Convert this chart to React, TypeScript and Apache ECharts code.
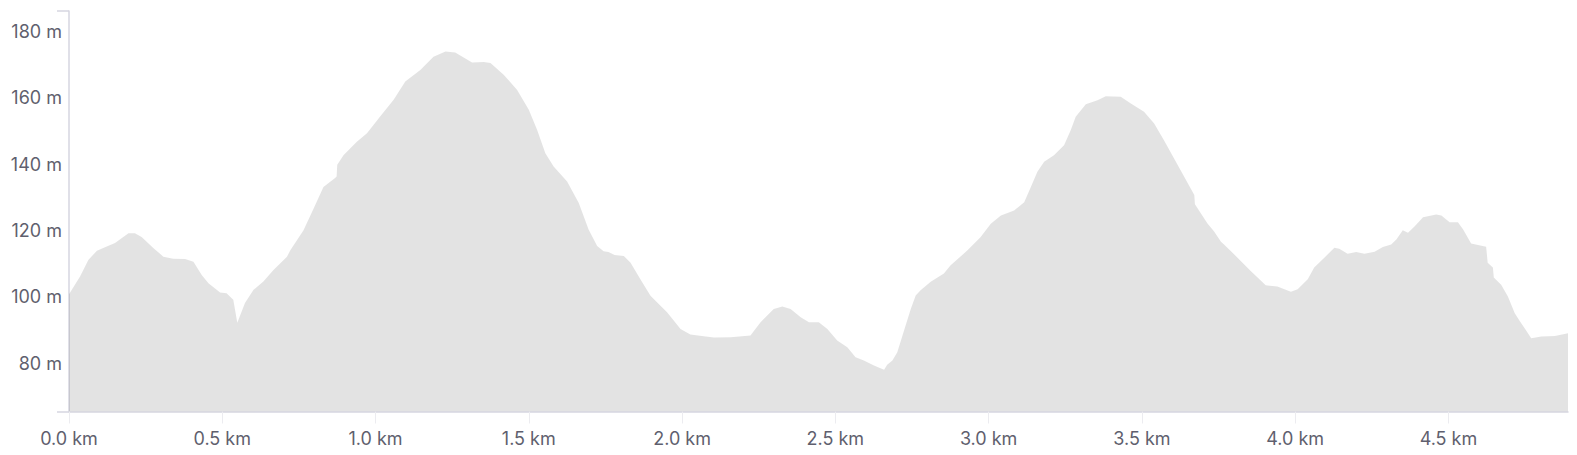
import React, { useEffect, useRef } from "react";
import * as echarts from "echarts";

const distanceKm: number[] = [
  0.0, 0.036, 0.063, 0.091, 0.123, 0.15, 0.194, 0.215, 0.237, 0.275, 0.308, 0.34, 0.379, 0.406, 0.433,
  0.455, 0.493, 0.514, 0.536, 0.549, 0.574, 0.602, 0.634, 0.667, 0.711, 0.722, 0.765, 0.798, 0.83,
  0.868, 0.873, 0.875, 0.896, 0.939, 0.972, 1.015, 1.059, 1.097, 1.146, 1.189, 1.228, 1.26, 1.315,
  1.353, 1.375, 1.418, 1.462, 1.5, 1.527, 1.554, 1.581, 1.625, 1.663, 1.695, 1.723, 1.744, 1.76,
  1.78, 1.81, 1.832, 1.864, 1.897, 1.919, 1.951, 1.995, 2.027, 2.071, 2.104, 2.158, 2.223, 2.256,
  2.299, 2.327, 2.354, 2.387, 2.414, 2.446, 2.474, 2.506, 2.539, 2.566, 2.593, 2.626, 2.659, 2.669,
  2.686, 2.702, 2.724, 2.746, 2.762, 2.778, 2.811, 2.854, 2.876, 2.931, 2.974, 3.007, 3.04, 3.083,
  3.116, 3.137, 3.159, 3.181, 3.213, 3.246, 3.268, 3.284, 3.317, 3.355, 3.382, 3.431, 3.464, 3.507,
  3.54, 3.572, 3.605, 3.638, 3.671, 3.673, 3.714, 3.735, 3.758, 3.768, 3.812, 3.855, 3.904, 3.942,
  3.986, 4.008, 4.041, 4.062, 4.095, 4.128, 4.144, 4.171, 4.199, 4.226, 4.259, 4.286, 4.313, 4.33,
  4.351, 4.368, 4.39, 4.417, 4.46, 4.477, 4.504, 4.531, 4.548, 4.574, 4.623, 4.628, 4.645, 4.648,
  4.672, 4.694, 4.716, 4.732, 4.77, 4.803, 4.847, 4.89,
];

const elevationM: number[] = [
  100.8, 106.1, 111.1, 113.9, 115.2, 116.2, 119.2, 119.2, 118.0, 114.7, 112.1, 111.5, 111.4, 110.6, 106.6,
  104.1, 101.3, 101.1, 99.1, 92.2, 98.1, 102.1, 104.6, 108.1, 112.1, 114.0, 120.1, 126.6, 133.1,
  135.8, 136.3, 139.8, 142.8, 146.8, 149.3, 154.4, 159.4, 164.9, 168.4, 172.4, 174.0, 173.7, 170.7,
  170.8, 170.5, 167.0, 162.4, 156.4, 150.4, 143.3, 139.3, 134.8, 128.3, 120.3, 115.3, 113.7, 113.5,
  112.6, 112.3, 110.3, 105.3, 100.3, 98.3, 95.3, 90.3, 88.6, 88.1, 87.7, 87.8, 88.3, 92.3,
  96.3, 97.1, 96.3, 93.8, 92.3, 92.3, 90.3, 86.8, 84.8, 81.8, 80.8, 79.3, 78.0, 79.5,
  80.8, 83.3, 89.8, 96.3, 100.4, 102.0, 104.5, 107.0, 109.5, 114.0, 118.0, 122.0, 124.5, 126.0,
  128.5, 133.0, 137.7, 140.7, 142.7, 145.7, 150.3, 154.3, 158.1, 159.3, 160.5, 160.3, 158.3, 155.8,
  152.3, 147.2, 141.7, 136.2, 130.7, 127.9, 122.1, 119.8, 116.6, 115.8, 111.8, 107.8, 103.5, 103.1,
  101.5, 102.3, 105.3, 108.8, 111.8, 114.8, 114.5, 113.0, 113.5, 113.0, 113.6, 115.0, 115.8, 117.3,
  120.1, 119.3, 121.3, 124.0, 124.8, 124.5, 122.5, 122.5, 120.3, 116.1, 115.1, 110.3, 108.8, 105.8,
  103.6, 100.1, 95.1, 92.8, 87.5, 88.0, 88.2, 89.0,
];

const xTickValues: number[] = [0, 0.5, 1, 1.5, 2, 2.5, 3, 3.5, 4, 4.5];
const yTickValues: number[] = [80, 100, 120, 140, 160, 180];

const X_MIN = 0;
const X_MAX = 4.89;
const Y_MIN = 65.4;
const Y_MAX = 186.2;

const AXIS_COLOR = "#d6d6e0";
const LABEL_COLOR = "#5f5f6e";
const FONT = "Inter, 'Liberation Sans', Arial, sans-serif";

export default function App() {
  const ref = useRef<HTMLDivElement>(null);

  useEffect(() => {
    if (!ref.current) return;
    const chart = echarts.init(ref.current, undefined, { renderer: "svg" });
    const data = distanceKm.map((d, i) => [d, elevationM[i]]);
    chart.setOption({
      animation: false,
      grid: { left: 69, right: 9, top: 11, bottom: 43.5, containLabel: false },
      xAxis: {
        type: "value",
        min: X_MIN,
        max: X_MAX,
        interval: 0.5,
        axisLine: { show: true, lineStyle: { color: AXIS_COLOR, width: 1.5 } },
        axisTick: {
          show: true,
          length: 12,
          customValues: xTickValues,
          lineStyle: { color: "#ececf0", width: 1 },
        },
        axisLabel: {
          customValues: xTickValues,
          formatter: (v: number) => `${v.toFixed(1)} km`,
          color: LABEL_COLOR,
          fontSize: 18,
          fontFamily: FONT,
          margin: 18,
        },
        splitLine: { show: false },
      },
      yAxis: {
        type: "value",
        min: Y_MIN,
        max: Y_MAX,
        axisLine: { show: true, lineStyle: { color: AXIS_COLOR, width: 1.5 } },
        axisTick: {
          show: true,
          length: 12,
          customValues: [Y_MIN, Y_MAX],
          lineStyle: { color: AXIS_COLOR, width: 1.5 },
        },
        axisLabel: {
          customValues: yTickValues,
          formatter: (v: number) => `${v} m`,
          color: LABEL_COLOR,
          fontSize: 18,
          fontFamily: FONT,
          margin: 7,
        },
        splitNumber: 6,
        splitLine: {
          show: true,
          showMinLine: false,
          showMaxLine: false,
          lineStyle: { color: "#f1f1f5", width: 1.5 },
        },
      },
      series: [
        {
          type: "line",
          data,
          showSymbol: false,
          symbol: "none",
          smooth: false,
          lineStyle: { width: 0 },
          areaStyle: { color: "rgba(0,0,0,0.11)", opacity: 1 },
          silent: true,
        },
      ],
    });
    return () => chart.dispose();
  }, []);

  return (
    <div
      ref={ref}
      style={{ position: "fixed", left: 0, top: 0, width: 1577, height: 455, background: "#fff" }}
    />
  );
}
